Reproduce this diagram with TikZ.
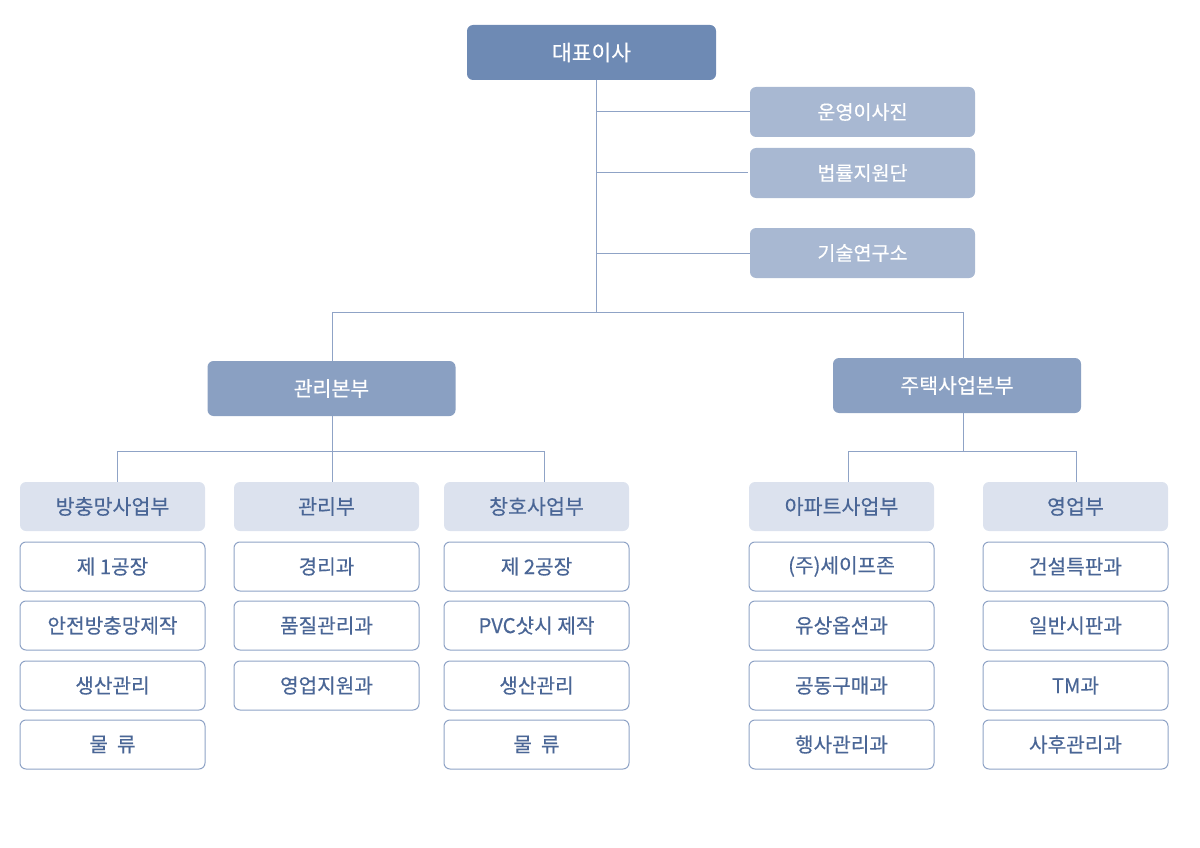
\documentclass[tikz,border=0pt]{standalone}
\usepackage{fontspec}
\setmainfont{Noto Sans CJK KR}
\newfontfamily\medfont[FakeBold=0.35]{Noto Sans CJK KR}
\definecolor{topc}{HTML}{6E8AB4}
\definecolor{sidec}{HTML}{A8B8D2}
\definecolor{divc}{HTML}{8AA0C2}
\definecolor{deptc}{HTML}{DCE2EE}
\definecolor{linec}{HTML}{8FA3C6}
\definecolor{txtc}{HTML}{4A6696}
\tikzset{
  base/.style={rectangle, rounded corners=6pt, inner sep=0pt, align=center},
  topbox/.style={base, fill=topc, text=white, minimum width=249pt, minimum height=55pt, font=\medfont\fontsize{21.5}{25}\selectfont},
  sidebox/.style={base, fill=sidec, text=white, minimum width=225pt, minimum height=50pt, font=\medfont\fontsize{19.6}{23}\selectfont},
  divbox/.style={base, fill=divc, text=white, minimum width=248pt, minimum height=55pt, font=\medfont\fontsize{20.5}{24}\selectfont},
  deptbox/.style={base, fill=deptc, text=txtc, minimum width=185pt, minimum height=49pt, font=\medfont\fontsize{20.6}{24}\selectfont},
  subbox/.style={base, draw=linec, line width=1pt, fill=white, text=txtc, minimum width=185pt, minimum height=49pt, font=\medfont\fontsize{20.2}{24}\selectfont},
  conn/.style={draw=linec, line width=1pt}
}
\begin{document}
\begin{tikzpicture}[x=1pt, y=-1pt]
\useasboundingbox (0,0) rectangle (1200,848);
% nodes
\node[topbox] (ceo) at (591.5,52.5) {대표이사};
\node[sidebox] (r1) at (862.5,112) {운영이사진};
\node[sidebox] (r2) at (862.5,173) {법률지원단};
\node[sidebox] (r3) at (862.5,253) {기술연구소};
\node[divbox] (mg) at (331.5,388.5) {관리본부};
\node[divbox] (hs) at (957,385.5) {주택사업본부};
% departments
\node[deptbox] (d1) at (112.5,506.5) {방충망사업부};
\node[deptbox] (d2) at (326.5,506.5) {관리부};
\node[deptbox] (d3) at (536.5,506.5) {창호사업부};
\node[deptbox] (d4) at (841.5,506.5) {아파트사업부};
\node[deptbox] (d5) at (1075.5,506.5) {영업부};
% sub units
\node[subbox] (d1a) at (112.5,566.5) {제 1공장};
\node[subbox] (d1b) at (112.5,625.5) {안전방충망제작};
\node[subbox] (d1c) at (112.5,685.5) {생산관리};
\node[subbox] (d1d) at (112.5,744.5) {물\ \ 류};
\node[subbox] (d2a) at (326.5,566.5) {경리과};
\node[subbox] (d2b) at (326.5,625.5) {품질관리과};
\node[subbox] (d2c) at (326.5,685.5) {영업지원과};
\node[subbox] (d3a) at (536.5,566.5) {제 2공장};
\node[subbox] (d3b) at (536.5,625.5) {PVC샷시 제작};
\node[subbox] (d3c) at (536.5,685.5) {생산관리};
\node[subbox] (d3d) at (536.5,744.5) {물\ \ 류};
\node[subbox] (d4a) at (841.5,566.5) {(주)세이프존};
\node[subbox] (d4b) at (841.5,625.5) {유상옵션과};
\node[subbox] (d4c) at (841.5,685.5) {공동구매과};
\node[subbox] (d4d) at (841.5,744.5) {행사관리과};
\node[subbox] (d5a) at (1075.5,566.5) {건설특판과};
\node[subbox] (d5b) at (1075.5,625.5) {일반시판과};
\node[subbox] (d5c) at (1075.5,685.5) {TM과};
\node[subbox] (d5d) at (1075.5,744.5) {사후관리과};
% junction coordinates
\coordinate (t) at (596,312);
\coordinate (tm) at (332,312);
\coordinate (th) at (963,312);
\coordinate (bm) at (332,451);
\coordinate (bh) at (963,451);
\coordinate (b1) at (117,451);
\coordinate (b2) at (332,451);
\coordinate (b3) at (544,451);
\coordinate (b4) at (848,451);
\coordinate (b5) at (1076,451);
% connectors
\draw[conn] (ceo.south -| t) -- (t);
\draw[conn] (r1.west) -- (r1.west -| t);
\draw[conn] (r2.west) ++(-2,0) -- (r2.west -| t);
\draw[conn] (r3.west) -- (r3.west -| t);
\draw[conn] (tm) -- (th);
\draw[conn] (tm) -- (tm |- mg.north);
\draw[conn] (th) -- (th |- hs.north);
\draw[conn] (bm |- mg.south) -- (bm);
\draw[conn] (bh |- hs.south) -- (bh);
\draw[conn] (b1) -- (b3);
\draw[conn] (b4) -- (b5);
\draw[conn] (b1) -- (b1 |- d1.north);
\draw[conn] (b2) -- (b2 |- d2.north);
\draw[conn] (b3) -- (b3 |- d3.north);
\draw[conn] (b4) -- (b4 |- d4.north);
\draw[conn] (b5) -- (b5 |- d5.north);
\end{tikzpicture}
\end{document}
